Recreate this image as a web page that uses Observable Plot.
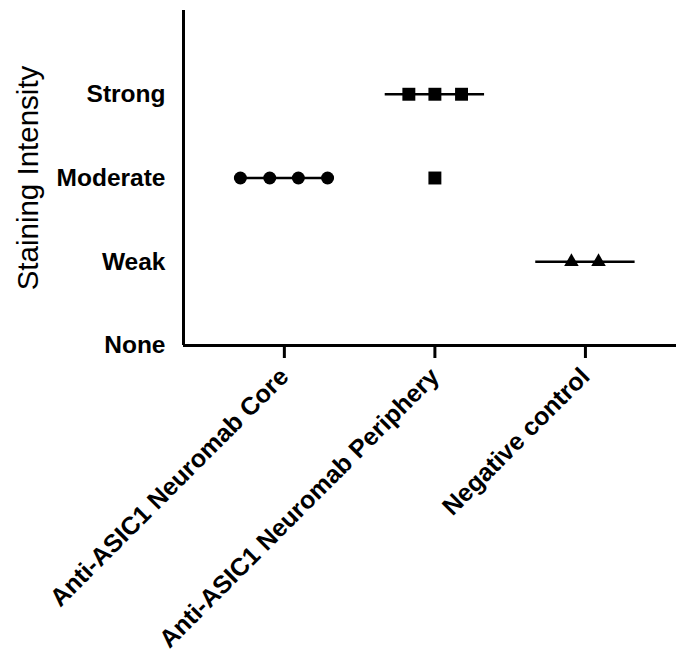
<!DOCTYPE html>
<html>
<head>
<meta charset="utf-8">
<script src="https://cdn.jsdelivr.net/npm/d3@7"></script>
<script src="https://cdn.jsdelivr.net/npm/@observablehq/plot@0.6"></script>
<style>
  html, body { margin: 0; padding: 0; background: #fff; }
  #chart { width: 676px; height: 657px; }
</style>
</head>
<body>
<div id="chart"></div>
<script>
// ---- data ----
const groups = ["Anti-ASIC1 Neuromab Core", "Anti-ASIC1 Neuromab Periphery", "Negative control"];
const levels = ["None", "Weak", "Moderate", "Strong"];
const coreScores = ["Moderate", "Moderate", "Moderate", "Moderate"];
const coreOffsets = [-0.292, -0.097, 0.093, 0.287];
const peripheryScores = ["Strong", "Strong", "Strong", "Moderate"];
const peripheryOffsets = [-0.173, 0, 0.177, 0];
const negativeScores = ["Weak", "Weak"];
const negativeOffsets = [-0.093, 0.087];
const medians = ["Moderate", "Strong", "Weak"];
const medianHalfWidth = 0.33;

// ---- build tables ----
function rows(groupIndex, scores, offsets) {
  return scores.map((s, j) => ({ x: groupIndex + offsets[j], y: levels.indexOf(s) }));
}
const corePts = rows(0, coreScores, coreOffsets);
const periPts = rows(1, peripheryScores, peripheryOffsets);
const negPts = rows(2, negativeScores, negativeOffsets);
const medianRows = medians.map((m, i) => ({ y: levels.indexOf(m), x1: i - medianHalfWidth, x2: i + medianHalfWidth }));

const xMin = -0.67, xMax = 2.605;

const chart = Plot.plot({
  width: 676,
  height: 657,
  marginLeft: 183,
  marginRight: 0,
  marginTop: 10,
  marginBottom: 312,
  style: { fontFamily: "'Liberation Sans', Arial, sans-serif", background: "white", color: "black" },
  x: { type: "linear", domain: [xMin, xMax] },
  y: { type: "linear", domain: [0, 4] },
  marks: [
    Plot.ruleY(medianRows, { y: "y", x1: "x1", x2: "x2", stroke: "black", strokeWidth: 2.5 }),
    Plot.dot(corePts, { x: "x", y: "y", symbol: "circle", r: 6.5, fill: "black", stroke: "none" }),
    Plot.dot(periPts, { x: "x", y: "y", symbol: "square", r: 7.3, fill: "black", stroke: "none" }),
    Plot.dot(negPts, { x: "x", y: "y", symbol: "triangle", r: 5.4, fill: "black", stroke: "none" }),
    Plot.ruleY([0], { stroke: "black", strokeWidth: 3 }),
    Plot.ruleX([xMin], { stroke: "black", strokeWidth: 3 }),
    Plot.axisY({
      ticks: [0, 1, 2, 3],
      tickFormat: d => levels[d],
      tickSize: 0,
      tickPadding: 18,
      fontSize: 24.5,
      fontWeight: "bold",
      label: null
    }),
    Plot.axisX({
      ticks: [0, 1, 2],
      tickFormat: d => groups[d],
      tickRotate: -45,
      tickSize: 13,
      tickPadding: 14,
      strokeWidth: 3,
      fontSize: 25,
      fontWeight: "bold",
      label: null
    }),
    Plot.text(["Staining Intensity"], {
      text: d => d,
      frameAnchor: "left",
      textAnchor: "middle",
      lineAnchor: "middle",
      dx: -155,
      rotate: -90,
      fontSize: 29.5,
      fill: "black"
    })
  ]
});
document.getElementById("chart").appendChild(chart);
</script>
</body>
</html>
